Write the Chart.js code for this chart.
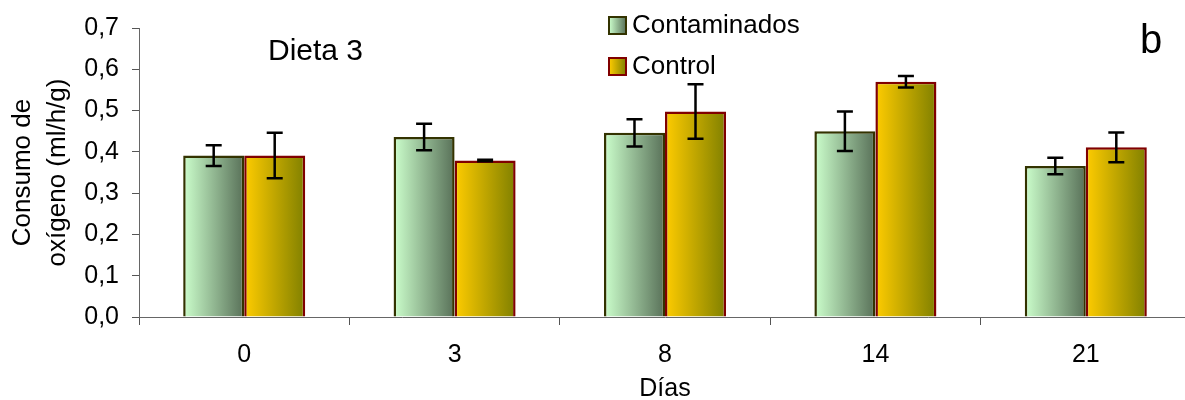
<!DOCTYPE html>
<html>
<head>
<meta charset="utf-8">
<script src="https://cdn.jsdelivr.net/npm/chart.js@4.4.1/dist/chart.umd.min.js"></script>
<style>
  html, body { margin: 0; padding: 0; background: #fff; overflow: hidden; }
  #wrap { width: 1192px; height: 400px; position: relative; }
</style>
</head>
<body>
<div id="wrap"><canvas id="chart"></canvas></div>
<script>
// data
const days = ["0", "3", "8", "14", "21"];
const contaminados = [0.391, 0.436, 0.446, 0.450, 0.366];
const contaminadosSD = [0.025, 0.032, 0.033, 0.048, 0.020];
const control = [0.391, 0.379, 0.498, 0.570, 0.411];
const controlSD = [0.055, 0.002, 0.066, 0.014, 0.036];
const yTicks = [0, 0.1, 0.2, 0.3, 0.4, 0.5, 0.6, 0.7];

const FONT = "'Liberation Sans', Arial, sans-serif";
const CAT_PCT = 0.58;

const palette = {
    Contaminados: { from: "#ccffcc", to: "#587058", border: "#333300" },
    Control: { from: "#ffcc00", to: "#808000", border: "#800000" }
};

// horizontal gradient across each bar
function barGradient(ctx) {
    const chart = ctx.chart;
    const pal = palette[ctx.dataset.label];
    const x = chart.scales.x;
    if (!x || ctx.type !== "data") return pal.from;
    const cw = x.width / days.length;
    const bw = cw * CAT_PCT / 2;
    const left = x.getPixelForValue(ctx.dataIndex) - bw + ctx.datasetIndex * bw;
    if (!isFinite(left) || !isFinite(bw) || bw <= 0) return pal.from;
    const g = chart.ctx.createLinearGradient(left, 0, left + bw, 0);
    g.addColorStop(0, pal.from);
    g.addColorStop(1, pal.to);
    return g;
}

const errorBars = {
    id: "errorBars",
    afterDatasetsDraw(chart) {
        const { ctx, scales: { y } } = chart;
        const sds = [contaminadosSD, controlSD];
        ctx.save();
        ctx.strokeStyle = "#000";
        ctx.lineWidth = 2.5;
        chart.data.datasets.forEach((ds, di) => {
            chart.getDatasetMeta(di).data.forEach((bar, i) => {
                const top = y.getPixelForValue(ds.data[i] + sds[di][i]);
                const bot = y.getPixelForValue(ds.data[i] - sds[di][i]);
                ctx.beginPath();
                ctx.moveTo(bar.x, top); ctx.lineTo(bar.x, bot);
                ctx.moveTo(bar.x - 8, top); ctx.lineTo(bar.x + 8, top);
                ctx.moveTo(bar.x - 8, bot); ctx.lineTo(bar.x + 8, bot);
                ctx.stroke();
            });
        });
        ctx.restore();
    }
};

const annotations = {
    id: "annotations",
    afterDraw(chart) {
        const ctx = chart.ctx;
        ctx.save();
        // legend
        const items = [["Contaminados", 16], ["Control", 57]];
        items.forEach(([label, top]) => {
            const pal = palette[label];
            const g = ctx.createLinearGradient(609, 0, 626, 0);
            g.addColorStop(0, pal.from);
            g.addColorStop(1, pal.to);
            ctx.fillStyle = g;
            ctx.fillRect(609, top + 1, 17, 17);
            ctx.strokeStyle = pal.border;
            ctx.lineWidth = 2;
            ctx.strokeRect(609, top + 1, 17, 17);
            ctx.fillStyle = "#000";
            ctx.font = "26px " + FONT;
            ctx.textBaseline = "middle";
            ctx.textAlign = "left";
            ctx.fillText(label, 632, top + 10);
        });
        ctx.font = "30px " + FONT;
        ctx.fillText("Dieta 3", 268, 52);
        ctx.font = "40px " + FONT;
        ctx.fillText("b", 1140, 42);
        ctx.restore();
    }
};

new Chart(document.getElementById("chart").getContext("2d"), {
    type: "bar",
    data: {
        labels: days,
        datasets: [
            {
                label: "Contaminados",
                data: contaminados,
                backgroundColor: barGradient,
                borderColor: palette.Contaminados.border,
                borderWidth: 2.5
            },
            {
                label: "Control",
                data: control,
                backgroundColor: barGradient,
                borderColor: palette.Control.border,
                borderWidth: 2.5
            }
        ]
    },
    options: {
        responsive: true,
        maintainAspectRatio: false,
        animation: false,
        datasets: { bar: { categoryPercentage: CAT_PCT, barPercentage: 1.0 } },
        layout: { padding: { top: 27, right: 1, left: 0, bottom: 0 } },
        plugins: { legend: { display: false }, tooltip: { enabled: false } },
        scales: {
            x: {
                afterFit: s => { s.height = 83; },
                grid: { offset: true, drawOnChartArea: false, tickLength: 8, color: "#555" },
                border: { color: "#666", width: 1 },
                ticks: { color: "#000", padding: 15, font: { family: FONT, size: 25 } },
                title: {
                    display: true, text: "Días", color: "#000",
                    font: { family: FONT, size: 25, lineHeight: 0.88 },
                    padding: { top: 0, bottom: 0 }
                }
            },
            y: {
                min: 0, max: 0.7,
                afterFit: s => { s.width = 139; },
                afterBuildTicks: s => { s.ticks = yTicks.map(v => ({ value: v })); },
                grid: { drawOnChartArea: false, tickLength: 7, color: "#555" },
                border: { color: "#666", width: 1 },
                ticks: {
                    color: "#000", padding: 13,
                    font: { family: FONT, size: 25 },
                    callback: v => v.toFixed(1).replace(".", ",")
                },
                title: {
                    display: true, text: ["Consumo de", "oxígeno (ml/h/g)"], color: "#000",
                    font: { family: FONT, size: 26, lineHeight: 1.35 },
                    padding: { top: 5, bottom: 0 }
                }
            }
        }
    },
    plugins: [errorBars, annotations]
});
</script>
</body>
</html>
